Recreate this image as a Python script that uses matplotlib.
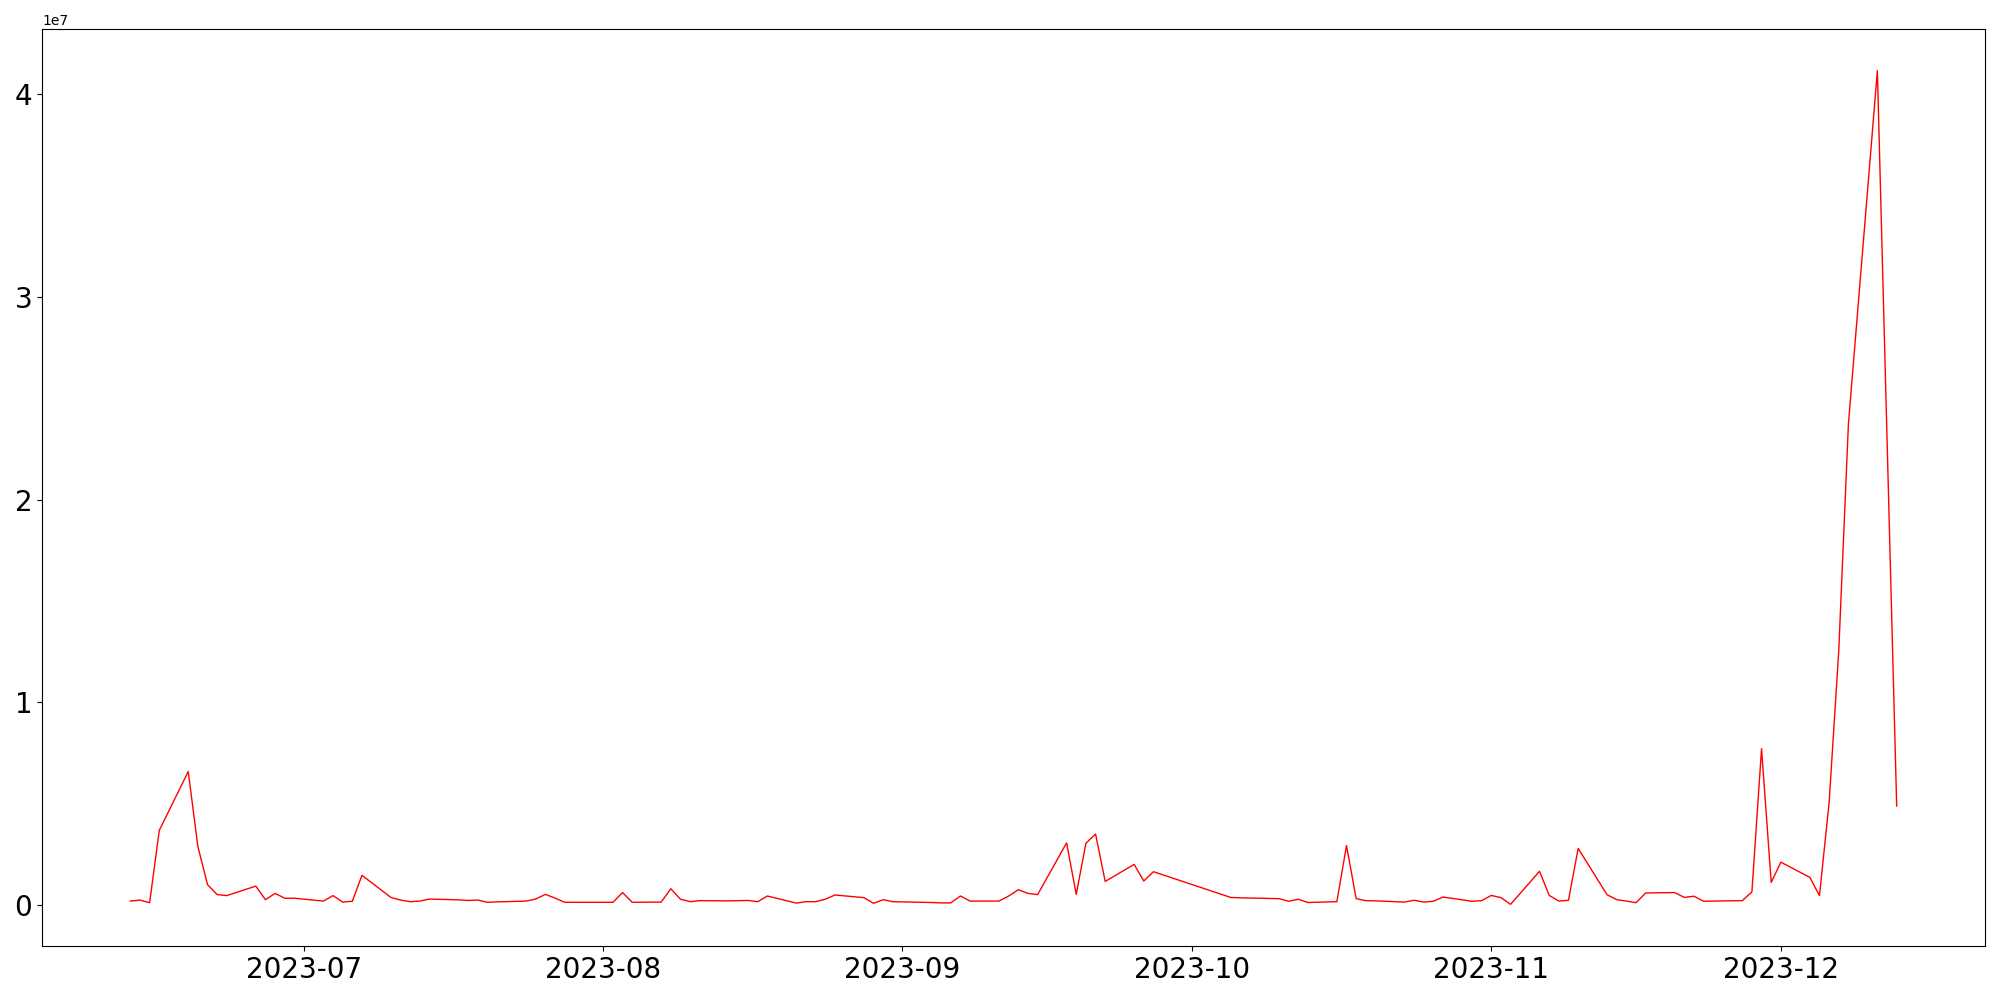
import matplotlib
matplotlib.use("Agg")
import matplotlib.pyplot as plt
import numpy as np
import pandas as pd

dates = [
    "2023-06-13", "2023-06-14", "2023-06-15", "2023-06-16",
    "2023-06-19", "2023-06-20", "2023-06-21", "2023-06-22", "2023-06-23",
    "2023-06-26", "2023-06-27", "2023-06-28", "2023-06-29", "2023-06-30",
    "2023-07-03", "2023-07-04", "2023-07-05", "2023-07-06", "2023-07-07",
    "2023-07-10", "2023-07-11", "2023-07-12", "2023-07-13", "2023-07-14",
    "2023-07-17", "2023-07-18", "2023-07-19", "2023-07-20", "2023-07-21",
    "2023-07-24", "2023-07-25", "2023-07-26", "2023-07-27", "2023-07-28",
    "2023-07-31", "2023-08-01", "2023-08-02", "2023-08-03", "2023-08-04",
    "2023-08-07", "2023-08-08", "2023-08-09", "2023-08-10", "2023-08-11",
    "2023-08-14", "2023-08-15", "2023-08-16", "2023-08-17", "2023-08-18",
    "2023-08-21", "2023-08-22", "2023-08-23", "2023-08-24", "2023-08-25",
    "2023-08-28", "2023-08-29", "2023-08-30", "2023-08-31", "2023-09-01",
    "2023-09-04", "2023-09-05", "2023-09-06", "2023-09-07", "2023-09-08",
    "2023-09-11", "2023-09-12", "2023-09-13", "2023-09-14", "2023-09-15",
    "2023-09-18", "2023-09-19", "2023-09-20", "2023-09-21", "2023-09-22",
    "2023-09-25", "2023-09-26", "2023-09-27",
    "2023-10-05", "2023-10-06",
    "2023-10-09", "2023-10-10", "2023-10-11", "2023-10-12", "2023-10-13",
    "2023-10-16", "2023-10-17", "2023-10-18", "2023-10-19", "2023-10-20",
    "2023-10-23", "2023-10-24", "2023-10-25", "2023-10-26", "2023-10-27",
    "2023-10-30", "2023-10-31", "2023-11-01", "2023-11-02", "2023-11-03",
    "2023-11-06", "2023-11-07", "2023-11-08", "2023-11-09", "2023-11-10",
    "2023-11-13", "2023-11-14", "2023-11-15", "2023-11-16", "2023-11-17",
    "2023-11-20", "2023-11-21", "2023-11-22", "2023-11-23", "2023-11-24",
    "2023-11-27", "2023-11-28", "2023-11-29", "2023-11-30", "2023-12-01",
    "2023-12-04", "2023-12-05", "2023-12-06", "2023-12-07", "2023-12-08",
    "2023-12-11", "2023-12-13",
]

# values in millions
values_m = [
    0.19, 0.24, 0.11, 3.68,
    6.58, 2.88, 1.00, 0.51, 0.46,
    0.93, 0.26, 0.57, 0.33, 0.33,
    0.19, 0.46, 0.14, 0.18, 1.46,
    0.37, 0.24, 0.16, 0.19, 0.29,
    0.25, 0.22, 0.24, 0.13, 0.15,
    0.19, 0.29, 0.52, 0.34, 0.13,
    0.13, 0.13, 0.13, 0.61, 0.13,
    0.14, 0.80, 0.28, 0.16, 0.21,
    0.20, 0.21, 0.22, 0.16, 0.44,
    0.09, 0.16, 0.16, 0.28, 0.49,
    0.36, 0.08, 0.26, 0.16, 0.15,
    0.12, 0.10, 0.10, 0.44, 0.19,
    0.19, 0.44, 0.75, 0.57, 0.51,
    3.06, 0.52, 3.04, 3.50, 1.16,
    2.00, 1.18, 1.64,
    0.37, 0.35,
    0.32, 0.31, 0.18, 0.28, 0.12,
    0.16, 2.93, 0.31, 0.21, 0.20,
    0.14, 0.23, 0.14, 0.18, 0.39,
    0.18, 0.21, 0.47, 0.36, 0.03,
    1.66, 0.47, 0.19, 0.23, 2.79,
    0.50, 0.26, 0.19, 0.11, 0.59,
    0.61, 0.37, 0.43, 0.18, 0.19,
    0.21, 0.64, 7.71, 1.11, 2.11,
    1.36, 0.46, 5.05, 12.55, 23.74,
    41.17, 4.88,
]

x = pd.to_datetime(dates)
y = np.array(values_m) * 1e6

fig, ax = plt.subplots(figsize=(20, 10), dpi=100)
ax.plot(x, y, color="red", linewidth=1.0)
ax.tick_params(axis="both", labelsize=20)
fig.subplots_adjust(left=0.021, right=0.9925, bottom=0.054, top=0.971)
fig.savefig("out.png", dpi=100)
